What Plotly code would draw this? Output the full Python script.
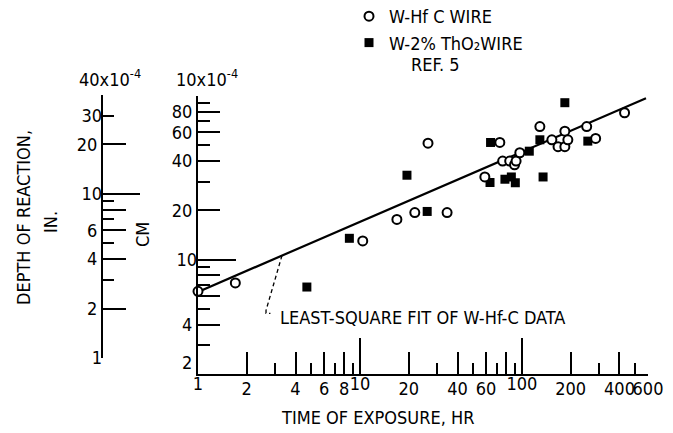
import numpy as np
import plotly.graph_objects as go

W, H = 673, 433
FONT = "Liberation Sans Narrow, DejaVu Sans Condensed, Arial Narrow, sans-serif"

# ---------------- data (time of exposure, hr ; depth of reaction, 1e-4 cm) ----------------
circle_hours = [1.0, 1.7, 10.4, 16.9, 21.8, 26.3, 34.5, 59, 73, 76, 84, 90, 92, 97,
                129, 153, 167, 184, 184, 192, 251, 285, 430]
circle_depth = [6.4, 7.2, 13.0, 17.6, 19.4, 51.5, 19.4, 32, 52, 40, 40, 38, 40, 45,
                65, 54, 49, 49, 61, 54, 65, 55, 79]

square_hours = [4.7, 8.6, 19.5, 26, 63.5, 64, 78.5, 86, 91, 111, 129, 135, 184, 255]
square_depth = [6.8, 13.5, 32.8, 19.7, 29.6, 52, 31, 32, 29.5, 46, 54, 32, 91, 53]

fit_hours = [1, 583]
fit_depth = [6.35, 97]

leader_hours = [3.3, 2.63, 2.63, 2.8]
leader_depth_end = [4.9, 4.7]

hours_range = [1, 600]
cm_range = [2, 100]
in_range = [1, 40]

x_mid_ticks = [2, 4, 6, 8, 20, 40, 60, 80, 200, 400, 600]
x_mid_text = ["2", "4", "6", "8", "20", "40", "60", "", "200", "400", "600"]
x_short_ticks = [3, 5, 7, 9, 30, 50, 70, 90, 300, 500]
x_long_ticks = [1, 10, 100]
x_long_text = ["1", "10", "100"]

cm_mid_ticks = [4, 6, 8, 20, 40, 60, 80]
cm_mid_text = ["4", "", "", "20", "40", "60", "80"]
cm_short_ticks = [3, 5, 7, 9, 30, 50, 70, 90]
cm_long_ticks = [10, 100]
cm_long_text = ["10", ""]

in_mid_ticks = [2, 4, 6, 8, 20, 40]
in_mid_text = ["2", "4", "6", "", "20", ""]
in_short_ticks = [3, 5, 7, 9]
in_long_ticks = [1, 10]
in_long_text = ["1", "10"]
in_extra_ticks = [30]
in_extra_text = ["30"]


def px(x):
    return x / W


def py(y):
    return 1 - y / H


fig = go.Figure()

fig.add_trace(go.Scatter(x=fit_hours, y=fit_depth, mode="lines",
                         line=dict(color="black", width=2.2), showlegend=False, hoverinfo="skip"))

# leader from the fit line down to the label
b = np.log(fit_depth[1] / fit_depth[0]) / np.log(fit_hours[1] / fit_hours[0])
lead_top = fit_depth[0] * (leader_hours[0] / fit_hours[0]) ** b
leader_depth = [lead_top, leader_depth_end[0], leader_depth_end[1], leader_depth_end[1]]
fig.add_trace(go.Scatter(x=leader_hours, y=leader_depth, mode="lines",
                         line=dict(color="black", width=1.3, dash="4px,3px"),
                         showlegend=False, hoverinfo="skip"))

fig.add_trace(go.Scatter(x=square_hours, y=square_depth, mode="markers",
                         marker=dict(symbol="square", size=9, color="black"),
                         name="W-2% ThO₂WIRE", legendrank=2, cliponaxis=False))
fig.add_trace(go.Scatter(x=circle_hours, y=circle_depth, mode="markers",
                         marker=dict(symbol="circle", size=9, color="white",
                                     line=dict(color="black", width=2)),
                         name="W-Hf C WIRE", legendrank=1, cliponaxis=False))

# empty traces that register the overlay axes
for xa, ya in [("x3", "y3"), ("x2", "y2"), ("x2", "y4"), ("x2", "y5")]:
    fig.add_trace(go.Scatter(x=[], y=[], xaxis=xa, yaxis=ya, showlegend=False, hoverinfo="skip"))

tf = dict(family=FONT, size=18, color="black")
base = dict(showgrid=False, zeroline=False, tickfont=tf, tickcolor="black",
            linecolor="black", tickwidth=2, ticks="inside", fixedrange=True,
            tickangle=0, automargin=False)


def minor(vals, ln):
    return dict(tickmode="array", tickvals=vals, ticks="inside", ticklen=ln,
                tickwidth=2, tickcolor="black", showgrid=False)


lx = [np.log10(v) for v in hours_range]
ly = [np.log10(v) for v in cm_range]
li = [np.log10(v) for v in in_range]
main_dom_x = [px(198), px(648)]
main_dom_y = [py(374), py(96)]

fig.update_layout(
    width=W, height=H, margin=dict(l=0, r=0, t=0, b=0, autoexpand=False),
    paper_bgcolor="white", plot_bgcolor="rgba(0,0,0,0)",
    font=dict(family=FONT, size=18, color="black"),
    xaxis=dict(base, type="log", range=lx, domain=main_dom_x, anchor="y",
               showline=True, linewidth=2, tickmode="array", tickvals=x_mid_ticks,
               ticktext=x_mid_text, ticklen=22, ticklabelstandoff=-3,
               minor=minor(x_short_ticks, 11)),
    xaxis3=dict(base, type="log", range=lx, overlaying="x", anchor="y", side="bottom",
                showline=False, tickmode="array", tickvals=x_long_ticks,
                ticktext=x_long_text, ticklen=36, ticklabelstandoff=-3),
    yaxis=dict(base, type="log", range=ly, domain=main_dom_y, anchor="x",
               showline=True, linewidth=2, tickmode="array", tickvals=cm_mid_ticks,
               ticktext=cm_mid_text, ticklen=22, minor=minor(cm_short_ticks, 12)),
    yaxis3=dict(base, type="log", range=ly, overlaying="y", anchor="x", side="left",
                showline=False, tickmode="array", tickvals=cm_long_ticks,
                ticktext=cm_long_text, ticklen=38),
    xaxis2=dict(domain=[px(103), px(140)], range=[0, 1], visible=False, anchor="y2",
                fixedrange=True),
    yaxis2=dict(base, type="log", range=li, domain=[py(358), py(95)], anchor="x2",
                showline=True, linewidth=2, tickmode="array", tickvals=in_mid_ticks,
                ticktext=in_mid_text, ticklen=23, minor=minor(in_short_ticks, 11)),
    yaxis4=dict(base, type="log", range=li, overlaying="y2", anchor="x2", side="left",
                showline=False, tickmode="array", tickvals=in_long_ticks,
                ticktext=in_long_text, ticklen=37),
    yaxis5=dict(base, type="log", range=li, overlaying="y2", anchor="x2", side="left",
                showline=False, tickmode="array", tickvals=in_extra_ticks,
                ticktext=in_extra_text, ticklen=11),
    showlegend=True,
    legend=dict(x=px(349), y=py(-2), xanchor="left", yanchor="top",
                font=dict(family=FONT, size=18, color="black"),
                bgcolor="rgba(0,0,0,0)", borderwidth=0, tracegroupgap=0),
)

ann = [
    dict(text="DEPTH OF REACTION,", x=px(23), y=py(218), textangle=-90),
    dict(text="IN.", x=px(50), y=py(222), textangle=-90),
    dict(text="CM", x=px(142), y=py(235), textangle=-90),
    dict(text="40x10<sup>-4</sup>", x=px(110), y=py(92), yanchor="bottom"),
    dict(text="10x10<sup>-4</sup>", x=px(207), y=py(92), yanchor="bottom"),
    dict(text="TIME OF EXPOSURE, HR", x=px(377), y=py(417)),
    dict(text="LEAST-SQUARE FIT OF W-Hf-C DATA", x=px(278), y=py(317), xanchor="left"),
    dict(text="REF. 5", x=px(435), y=py(64)),
    dict(text="2", x=px(194), y=py(362), xanchor="right"),
]
for a in ann:
    a.setdefault("xanchor", "center")
    a.setdefault("yanchor", "middle")
    fig.add_annotation(xref="paper", yref="paper", showarrow=False,
                       font=dict(family=FONT, size=18, color="black"), **a)

fig.write_html("out.html")
